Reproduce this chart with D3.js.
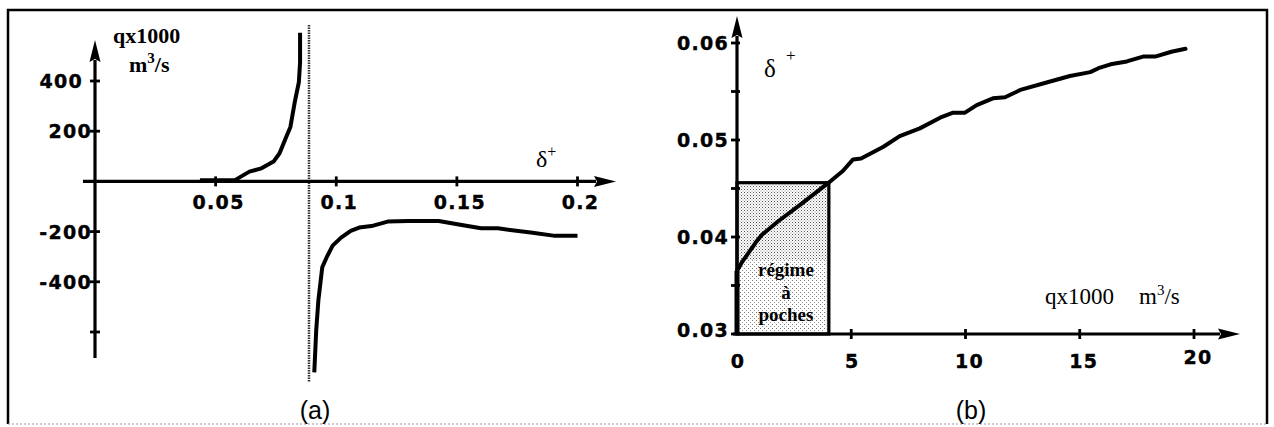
<!DOCTYPE html>
<html><head><meta charset="utf-8">
<script src="https://cdn.jsdelivr.net/npm/d3@7"></script>
<style>
html,body{margin:0;padding:0;background:#fff;}
svg{display:block;}
.tick{font-family:"DejaVu Sans",sans-serif;font-weight:bold;font-size:19px;letter-spacing:1.3px;fill:#000;stroke:#000;stroke-width:0.4px;}
.serif{font-family:"Liberation Serif","Times New Roman",serif;fill:#000;}
.cap{font-family:"Liberation Sans",Arial,sans-serif;font-size:25px;fill:#000;}
</style></head>
<body>
<svg id="c" width="1274" height="427"></svg>
<script>
// ---------- data ----------
// Panel (a): q (x1000 m3/s) versus delta+
const aTicksX = [0.05, 0.1, 0.15, 0.2];
const aTicksXLabels = ["0.05", "0.1", "0.15", "0.2"];
const aTicksY = [400, 200, -200, -400, -600];
const aTicksYLabels = ["400", "200", "-200", "-400", ""];
const aAsymptote = 0.0887;
const aLeftDelta = [0.0435, 0.050, 0.058, 0.064, 0.069, 0.074, 0.0765, 0.079, 0.081, 0.0828, 0.0845, 0.085, 0.085];
const aLeftQ     = [5, 5, 5, 39, 52, 79, 112, 171, 217, 316, 395, 473, 592];
const aRightDelta = [0.0909, 0.0917, 0.0926, 0.0942, 0.096, 0.0985, 0.102, 0.106, 0.1095, 0.1146, 0.1213, 0.1298, 0.1425, 0.152, 0.160, 0.167, 0.1806, 0.1907, 0.200];
const aRightQ     = [-761, -592, -473, -342, -303, -256, -224, -197, -184, -178, -160, -158, -158, -174, -187, -187, -204, -217, -217];

// Panel (b): delta+ versus q (x1000 m3/s)
const bTicksX = [0, 5, 10, 15, 20];
const bTicksY = [0.03, 0.035, 0.04, 0.045, 0.05, 0.055, 0.06];
const bTicksYLabels = ["0.03", "", "0.04", "", "0.05", "", "0.06"];
const bQ     = [0, 0.19, 0.81, 1.08, 1.79, 2.86, 4.01, 4.63, 5.08, 5.43, 6.41, 7.12, 8.0, 8.89, 9.43, 9.96, 10.49, 11.2, 11.73, 12.44, 13.51, 14.57, 15.46, 15.82, 16.35, 17.06, 17.77, 18.3, 19.01, 19.63];
const bDelta = [0.0365, 0.0373, 0.0394, 0.0402, 0.0416, 0.0435, 0.0456, 0.0468, 0.0480, 0.0481, 0.0493, 0.0504, 0.0512, 0.0523, 0.0528, 0.0528, 0.0536, 0.0543, 0.0544, 0.0552, 0.0559, 0.0566, 0.0570, 0.0574, 0.0578, 0.0581, 0.0586, 0.0586, 0.0591, 0.0594];
const bRegimeQ = [0, 4.02];
const bRegimeDelta = [0.03, 0.0456];
const bRegimeLabel = ["régime", "à", "poches"];

// ---------- drawing ----------
const svg = d3.select("#c");
const defs = svg.append("defs");
const pat = defs.append("pattern").attr("id","stip").attr("patternUnits","userSpaceOnUse").attr("width",3).attr("height",3);
pat.append("rect").attr("width",3).attr("height",3).attr("fill","#fff");
pat.append("rect").attr("x",0).attr("y",0).attr("width",1).attr("height",1).attr("fill","#555");
pat.append("rect").attr("x",1.5).attr("y",1.5).attr("width",1).attr("height",1).attr("fill","#888");
const pat2 = defs.append("pattern").attr("id","stip2").attr("patternUnits","userSpaceOnUse").attr("width",4).attr("height",4);
pat2.append("rect").attr("width",4).attr("height",4).attr("fill","#fff");
pat2.append("rect").attr("x",0).attr("y",0).attr("width",1).attr("height",1).attr("fill","#777");
pat2.append("rect").attr("x",2).attr("y",2).attr("width",1).attr("height",1).attr("fill","#999");

const arrow = (g, x1, y1, x2, y2, len, half) => {
  const ang = Math.atan2(y2 - y1, x2 - x1);
  const bx = x2 - len * Math.cos(ang), by = y2 - len * Math.sin(ang);
  const px = -Math.sin(ang) * half, py = Math.cos(ang) * half;
  g.append("line").attr("x1",x1).attr("y1",y1).attr("x2",bx + 2*Math.cos(ang)).attr("y2",by + 2*Math.sin(ang))
    .attr("stroke","#000").attr("stroke-width",3.2);
  g.append("path").attr("d",`M${x2},${y2}L${bx+px},${by+py}L${bx+3*Math.cos(ang)},${by+3*Math.sin(ang)}L${bx-px},${by-py}Z`).attr("fill","#000");
};

// frame
svg.append("path").attr("d","M8,424 L8,10 L1267,10 L1267,424").attr("fill","none").attr("stroke","#000").attr("stroke-width",2.5);
svg.append("line").attr("x1",8).attr("x2",1267).attr("y1",424).attr("y2",424).attr("stroke","#999").attr("stroke-width",1.2).attr("stroke-dasharray","2,2");

// ---- panel (a) ----
const xA = d3.scaleLinear().domain([0, 0.2]).range([95, 577.5]);
const yA = d3.scaleLinear().domain([-600, 400]).range([332, 81]);
const gA = svg.append("g");

// asymptote
gA.append("line").attr("x1",xA(aAsymptote)).attr("x2",xA(aAsymptote)).attr("y1",25).attr("y2",382)
  .attr("stroke","#333").attr("stroke-width",2.5).attr("stroke-dasharray","1.5,1");

// axes
arrow(gA, xA(0), 358, xA(0), 40, 22, 5.5);
arrow(gA, 83, yA(0), 616, yA(0), 22, 5.5);
gA.selectAll(".ty").data(aTicksY).join("line")
  .attr("x1",xA(0)-5).attr("x2",xA(0)+5).attr("y1",d=>yA(d)).attr("y2",d=>yA(d)).attr("stroke","#000").attr("stroke-width",2.8);
gA.selectAll(".tx").data(aTicksX).join("line")
  .attr("x1",d=>xA(d)).attr("x2",d=>xA(d)).attr("y1",yA(0)-5).attr("y2",yA(0)+5).attr("stroke","#000").attr("stroke-width",2.8);
gA.selectAll(".lx").data(aTicksX).join("text").attr("class","tick")
  .attr("x",d=>xA(d)+3).attr("y",yA(0)+28).attr("text-anchor","middle").text((d,i)=>aTicksXLabels[i]);
gA.selectAll(".ly").data(aTicksY).join("text").attr("class","tick")
  .attr("x",d=>d===400 ? xA(0)-12 : xA(0)-3).attr("y",d=>yA(d)+7).attr("text-anchor","end").text((d,i)=>aTicksYLabels[i]);

// curves
const lineA = d3.line().x(d=>xA(d[0])).y(d=>yA(d[1]));
gA.append("path").datum(aLeftDelta.map((d,i)=>[d,aLeftQ[i]])).attr("d",lineA)
  .attr("fill","none").attr("stroke","#000").attr("stroke-width",4).attr("stroke-linejoin","round");
gA.append("path").datum(aRightDelta.map((d,i)=>[d,aRightQ[i]])).attr("d",lineA)
  .attr("fill","none").attr("stroke","#000").attr("stroke-width",4).attr("stroke-linejoin","round");

// labels
gA.append("text").attr("class","serif").attr("x",113).attr("y",43).attr("font-size",22).attr("font-weight","bold").text("qx1000");
const mA = gA.append("text").attr("class","serif").attr("x",129).attr("y",72).attr("font-size",22).attr("font-weight","bold");
mA.append("tspan").text("m");
mA.append("tspan").attr("dy",-9).attr("font-size",15).text("3");
mA.append("tspan").attr("dy",9).text("/s");
const dA = gA.append("text").attr("class","serif").attr("x",536).attr("y",167).attr("font-size",24);
dA.append("tspan").text("δ");
dA.append("tspan").attr("dy",-10).attr("font-size",16).text("+");
gA.append("text").attr("class","cap").attr("x",315).attr("y",419).attr("text-anchor","middle").text("(a)");

// ---- panel (b) ----
const xB = d3.scaleLinear().domain([0, 20]).range([737, 1194]);
const yB = d3.scaleLinear().domain([0.03, 0.06]).range([334, 43]);
const gB = svg.append("g");

// regime box
const rx0 = xB(bRegimeQ[0]), rx1 = xB(bRegimeQ[1]), ry0 = yB(bRegimeDelta[1]), ry1 = yB(bRegimeDelta[0]);
gB.append("rect").attr("x",rx0).attr("y",ry0).attr("width",rx1-rx0).attr("height",ry1-ry0).attr("fill","url(#stip)");
gB.append("rect").attr("x",rx0+3).attr("y",yB(0.0376)).attr("width",rx1-rx0-6).attr("height",yB(0.03)-yB(0.0376)-2)
  .attr("fill","url(#stip2)");
gB.append("rect").attr("x",rx0).attr("y",ry0).attr("width",rx1-rx0).attr("height",ry1-ry0)
  .attr("fill","none").attr("stroke","#000").attr("stroke-width",3.2);
gB.selectAll(".rl").data(bRegimeLabel).join("text").attr("class","serif")
  .attr("x",(rx0+rx1)/2+3).attr("y",(d,i)=>yB(0.03)-58+i*22.5).attr("text-anchor","middle")
  .attr("font-size",19).attr("font-weight","bold").text(d=>d);

// axes
arrow(gB, xB(0), yB(0.03), xB(0), 16, 22, 5.5);
arrow(gB, xB(0)-4, yB(0.03), 1240, yB(0.03), 22, 5.5);
gB.append("line").attr("x1",xB(0)).attr("x2",xB(0)).attr("y1",yB(0.03)).attr("y2",yB(0.0365)).attr("stroke","#000").attr("stroke-width",5);
gB.selectAll(".ty").data(bTicksY).join("line")
  .attr("x1",xB(0)-6).attr("x2",xB(0)+3).attr("y1",d=>yB(d)).attr("y2",d=>yB(d)).attr("stroke","#000").attr("stroke-width",2.8);
gB.selectAll(".tx").data(bTicksX.slice(1)).join("line")
  .attr("x1",d=>xB(d)).attr("x2",d=>xB(d)).attr("y1",yB(0.03)-5).attr("y2",yB(0.03)+5).attr("stroke","#000").attr("stroke-width",2.8);
gB.selectAll(".lx").data(bTicksX).join("text").attr("class","tick")
  .attr("x",d=>xB(d)+ (d>=10 ? 4 : 1)).attr("y",d=>d===20 ? yB(0.03)+30 : yB(0.03)+34).attr("text-anchor","middle").text(d=>d);
gB.selectAll(".ly").data(bTicksY).join("text").attr("class","tick")
  .attr("x",xB(0)-8).attr("y",d=>d===0.03 ? yB(d)+3 : yB(d)+7).attr("text-anchor","end").text((d,i)=>bTicksYLabels[i]);

// curve
const lineB = d3.line().x(d=>xB(d[0])).y(d=>yB(d[1]));
gB.append("path").datum(bQ.map((d,i)=>[d,bDelta[i]])).attr("d",lineB)
  .attr("fill","none").attr("stroke","#000").attr("stroke-width",4).attr("stroke-linejoin","round").attr("stroke-linecap","round");

// labels
const dB = gB.append("text").attr("class","serif").attr("x",764).attr("y",77).attr("font-size",25);
dB.append("tspan").text("δ");
dB.append("tspan").attr("x",786).attr("dy",-16).attr("font-size",17).text("+");
const qB = gB.append("text").attr("class","serif").attr("x",1045).attr("y",304).attr("font-size",23);
qB.append("tspan").text("qx1000");
qB.append("tspan").attr("x",1139).text("m");
qB.append("tspan").attr("dy",-9).attr("font-size",15).text("3");
qB.append("tspan").attr("dy",9).text("/s");
gB.append("text").attr("class","cap").attr("x",971).attr("y",419).attr("text-anchor","middle").text("(b)");
</script>
</body></html>
